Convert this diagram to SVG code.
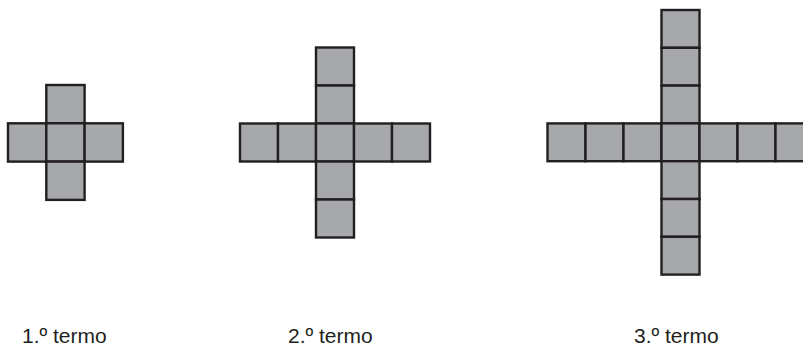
<svg xmlns="http://www.w3.org/2000/svg" width="803" height="346" viewBox="0 0 803 346">
<style>
.c{fill:#a7a8ab;stroke:#231f20;stroke-width:2.4}
.t{font-family:"Liberation Sans",Arial,sans-serif;font-size:21px;fill:#231f20}
</style>
<rect width="803" height="346" fill="#ffffff"/>
<g id="termo1">
<rect class="c" x="46.3" y="85" width="38.3" height="38.3"/>
<rect class="c" x="8" y="123.3" width="38.3" height="38.3"/>
<rect class="c" x="46.3" y="123.3" width="38.3" height="38.3"/>
<rect class="c" x="84.6" y="123.3" width="38.3" height="38.3"/>
<rect class="c" x="46.3" y="161.6" width="38.3" height="38.3"/>
</g>
<g id="termo2">
<rect class="c" x="316" y="47.5" width="38" height="38"/>
<rect class="c" x="316" y="85.5" width="38" height="38"/>
<rect class="c" x="240" y="123.5" width="38" height="38"/>
<rect class="c" x="278" y="123.5" width="38" height="38"/>
<rect class="c" x="316" y="123.5" width="38" height="38"/>
<rect class="c" x="354" y="123.5" width="38" height="38"/>
<rect class="c" x="392" y="123.5" width="38" height="38"/>
<rect class="c" x="316" y="161.5" width="38" height="38"/>
<rect class="c" x="316" y="199.5" width="38" height="38"/>
</g>
<g id="termo3">
<rect class="c" x="661.5" y="10" width="38" height="37.8"/>
<rect class="c" x="661.5" y="47.8" width="38" height="37.8"/>
<rect class="c" x="661.5" y="85.6" width="38" height="37.8"/>
<rect class="c" x="547.5" y="123.4" width="38" height="37.8"/>
<rect class="c" x="585.5" y="123.4" width="38" height="37.8"/>
<rect class="c" x="623.5" y="123.4" width="38" height="37.8"/>
<rect class="c" x="661.5" y="123.4" width="38" height="37.8"/>
<rect class="c" x="699.5" y="123.4" width="38" height="37.8"/>
<rect class="c" x="737.5" y="123.4" width="38" height="37.8"/>
<rect class="c" x="775.5" y="123.4" width="38" height="37.8"/>
<rect class="c" x="661.5" y="161.2" width="38" height="37.8"/>
<rect class="c" x="661.5" y="199" width="38" height="37.8"/>
<rect class="c" x="661.5" y="236.8" width="38" height="37.8"/>
</g>
<g id="labels">
<text class="t" x="22" y="343">1.º termo</text>
<text class="t" x="288" y="343">2.º termo</text>
<text class="t" x="634" y="343">3.º termo</text>
</g>
</svg>
